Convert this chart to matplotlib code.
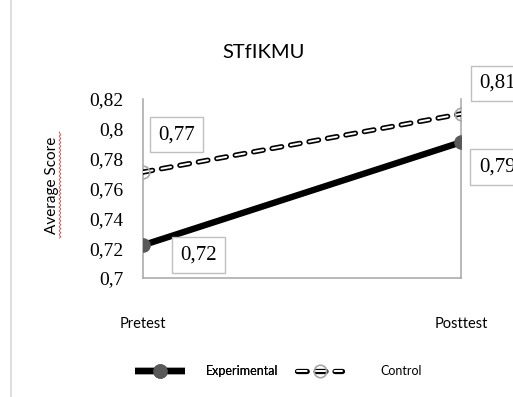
import numpy as np
import matplotlib
matplotlib.use("Agg")
import matplotlib.pyplot as plt
from matplotlib.patches import Rectangle
from matplotlib.lines import Line2D

plt.rcParams['lines.scale_dashes'] = False

# data
phases = ["Pretest", "Posttest"]
experimental = [0.722, 0.791]
control = [0.771, 0.810]
exp_labels = ["0,72", "0,79"]
ctrl_labels = ["0,77", "0,81"]
yticks = [0.70, 0.72, 0.74, 0.76, 0.78, 0.80, 0.82]
ytick_labels = ["0,7", "0,72", "0,74", "0,76", "0,78", "0,8", "0,82"]

W, H = 513, 397
fig = plt.figure(figsize=(W / 100, H / 100), dpi=100)

# outer chart frame (cut off at right / bottom)
fig.add_artist(Rectangle((11 / W, -0.2), 1.2, 1.2 + (1 - 13 / H),
                         transform=fig.transFigure, fill=False,
                         edgecolor="#d9d9d9", lw=1.2))

ax = fig.add_axes([143 / W, 1 - 278 / H, (461 - 143) / W, (278 - 99) / H])
x = np.arange(len(phases))

# control: outlined dashes (black dash with white core)
dash = (7.0, 6.5)
c_black, = ax.plot(x, control, color="black", lw=3.8, dashes=dash,
                   dash_capstyle="round", zorder=3)
c_white, = ax.plot(x, control, color="white", lw=1.4, dashes=dash,
                   dash_capstyle="round", zorder=4)
c_mark, = ax.plot(x, control, ls="none", marker="o", ms=9,
                  mfc="none", mec="#a6a6a6", mew=1.2, zorder=5)

e_line, = ax.plot(x, experimental, color="black", lw=4.6,
                  solid_capstyle="butt", zorder=6,
                  marker="o", ms=9.5, mfc="#595959", mec="#595959")

ax.set_xlim(0, 1)
ax.set_ylim(0.70, 0.82)
ax.set_yticks(yticks)
ax.set_yticklabels(ytick_labels, family="Liberation Serif", fontsize=14)
ax.set_xticks(x)
ax.set_xticklabels(phases, family="Lato", fontsize=10.5)
ax.tick_params(axis="y", length=0, pad=14)
ax.tick_params(axis="x", length=0, pad=28)
for s in ["left", "right", "bottom"]:
    ax.spines[s].set_color("#a6a6a6")
    ax.spines[s].set_linewidth(1.1)
ax.spines["top"].set_visible(False)

box = dict(boxstyle="square,pad=0.4", fc="white", ec="#bfbfbf", lw=1)
offsets_c = [(24, 27), (26, 22)]
offsets_e = [(40, -7), (26, -18)]
for i in range(len(phases)):
    ax.annotate(ctrl_labels[i], (x[i], control[i]), textcoords="offset points",
                xytext=offsets_c[i], ha="center", va="center",
                family="Liberation Serif", fontsize=15, bbox=box,
                annotation_clip=False, zorder=7)
    ax.annotate(exp_labels[i], (x[i], experimental[i]), textcoords="offset points",
                xytext=offsets_e[i], ha="center", va="center",
                family="Liberation Serif", fontsize=15, bbox=box,
                annotation_clip=False, zorder=7)

fig.text(264 / W, 1 - 53 / H, "STfIKMU", family="Lato", fontsize=14.5,
         ha="center", va="center")
fig.text(52 / W, 1 - 185 / H, "Average Score", family="Lato", fontsize=11,
         rotation=90, ha="center", va="center")
# spell-check squiggle under the axis title
yy = np.linspace(132, 238, 80)
fig.add_artist(Line2D((60 + 0.9 * np.sin(yy * 1.6)) / W, 1 - yy / H,
                      color="#e03c3c", lw=0.6, transform=fig.transFigure))

# legend: two separate entries, positioned like the original
common = dict(frameon=False, prop={"family": "Lato", "size": 9},
              borderpad=0, borderaxespad=0, loc="center left")
leg1 = fig.legend([e_line], ["Experimental"],
                  bbox_to_anchor=(135 / W, 1 - 371 / H),
                  handlelength=4.0, handletextpad=1.7, **common)
fig.add_artist(leg1)
fig.legend([(c_black, c_white, c_mark)], ["Control"],
           bbox_to_anchor=(297 / W, 1 - 371 / H),
           handlelength=3.6, handletextpad=3.1, **common)

fig.savefig("out.png", dpi=100)
